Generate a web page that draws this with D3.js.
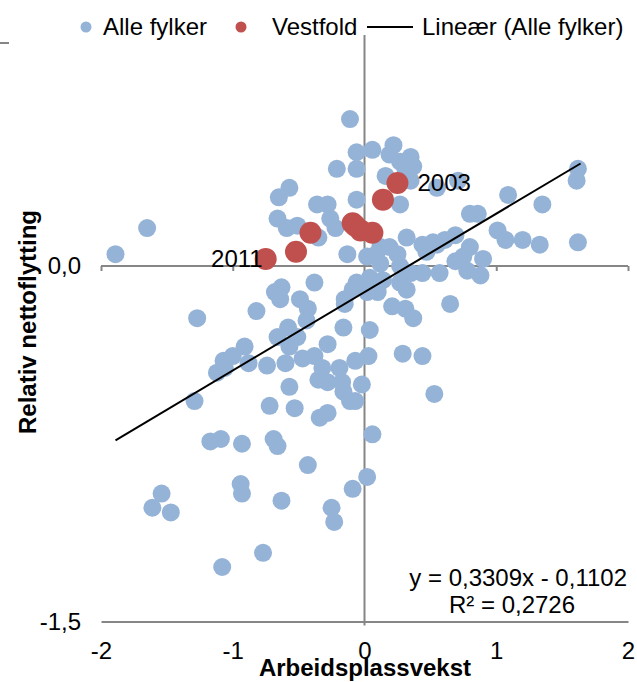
<!DOCTYPE html>
<html>
<head>
<meta charset="utf-8">
<script src="https://cdn.jsdelivr.net/npm/d3@7"></script>
<style>
  body { margin: 0; background: #fff; }
  text { font-family: "Liberation Sans", Arial, sans-serif; }
</style>
</head>
<body>
<svg id="chart" width="637" height="682"></svg>
<script>
// Alle fylker (x = arbeidsplassvekst, y = relativ nettoflytting)
const alleX = [-0.11,-0.06,0.06,0.22,0.19,0.35,0.37,0.27,0.31,-0.21,-0.06,0.16,0.35,0.55,0.71,-0.65,-0.57,-0.36,-0.28,-0.06,0.27,
  -0.66,-0.51,-0.59,-0.26,-0.22,-0.35,-0.13,-1.65,-1.89,1.09,1.35,1.62,1.61,0.80,0.86,1.01,1.07,1.20,1.33,1.62,
  0.32,0.19,0.12,0.02,0.25,0.47,0.55,0.61,0.69,0.80,0.90,0.75,0.44,0.57,0.69,0.27,0.04,-0.06,0.78,0.88,0.09,0.12,
  0.44,0.52,0.35,0.27,0.14,-0.09,-0.38,-0.15,0.32,0.02,0.10,0.21,0.31,0.37,0.65,0.04,0.03,-0.07,0.29,0.44,-0.02,
  -0.07,0.53,0.06,-1.27,-0.82,-0.68,-0.63,-0.64,-0.49,-0.43,-0.44,-0.15,-0.16,-0.66,-0.58,-0.51,-0.57,-0.91,-1.00,
  -1.07,-1.12,-1.06,-0.88,-0.74,-0.60,-0.47,-0.38,-0.28,-0.32,-0.35,-0.28,-0.19,-0.17,-0.16,-0.11,-0.57,-1.29,-0.72,
  -0.53,-0.34,-0.28,-1.17,-1.09,-0.93,-0.69,-0.66,-0.43,0.02,-0.09,-1.54,-1.61,-1.47,-0.94,-0.93,-0.63,-0.25,-0.23,
  -0.77,-1.08]
const alleY = [0.62,0.48,0.49,0.51,0.47,0.46,0.42,0.44,0.41,0.41,0.41,0.38,0.36,0.33,0.36,0.29,0.33,0.26,0.26,0.28,0.26,
  0.20,0.17,0.16,0.20,0.16,0.12,0.05,0.16,0.05,0.30,0.26,0.41,0.36,0.22,0.22,0.15,0.11,0.11,0.09,0.10,
  0.12,0.08,0.08,0.04,0.05,0.06,0.09,0.11,0.13,0.08,0.03,0.04,-0.03,-0.03,0.02,0.00,-0.05,-0.07,-0.02,-0.04,0.05,0.01,
  0.09,0.10,-0.03,-0.07,-0.06,-0.10,-0.07,-0.14,-0.10,-0.11,-0.11,-0.17,-0.18,-0.22,-0.16,-0.27,-0.38,-0.40,-0.37,-0.38,-0.50,
  -0.57,-0.54,-0.71,-0.22,-0.19,-0.11,-0.09,-0.14,-0.14,-0.18,-0.23,-0.16,-0.26,-0.30,-0.26,-0.30,-0.34,-0.34,-0.38,
  -0.40,-0.45,-0.43,-0.41,-0.42,-0.41,-0.39,-0.38,-0.33,-0.43,-0.48,-0.49,-0.43,-0.49,-0.53,-0.57,-0.51,-0.57,-0.59,
  -0.60,-0.64,-0.62,-0.74,-0.73,-0.75,-0.73,-0.76,-0.84,-0.89,-0.94,-0.96,-1.02,-1.04,-0.92,-0.96,-0.99,-1.02,-1.08,
  -1.21,-1.27]

// Vestfold 2003-2011
const vestAar = [2003,2004,2005,2006,2007,2008,2009,2010,2011]
const vestX = [0.25,0.14,0.06,-0.03,-0.07,-0.09,-0.41,-0.52,-0.75]
const vestY = [0.35,0.28,0.14,0.15,0.17,0.18,0.14,0.06,0.03]
const vestEtikett = ["2003","","","","","","","","2011"]

// lineær trend (Alle fylker)
const stigning = 0.3309
const konstant = -0.1102
const r2 = 0.2726

const xTicks = [-2,-1,0,1,2]
const yTicks = [-1.5,0]

const svg = d3.select("#chart")
const grey = "#868686"
const blue = "#95b3d7"
const red = "#c0504d"
const fs = 24

const x = d3.scaleLinear().domain([-2, 2]).range([101, 628])
const y = d3.scaleLinear().domain([-1.5, 1]).range([621.5, 29])
const fmt = v => d3.format(".1f")(v).replace(".", ",").replace("−", "-")

// little stub at top-left
svg.append("line").attr("x1", 0).attr("x2", 9).attr("y1", 43).attr("y2", 43)
  .attr("stroke", grey).attr("stroke-width", 2)

// bottom axis with labels
const xBottom = svg.append("g").attr("transform", `translate(0,${y(-1.5)})`)
  .call(d3.axisBottom(x).tickValues(xTicks).tickSize(0).tickPadding(20).tickFormat(d => String(d).replace("−", "-")))
xBottom.select(".domain").attr("stroke", grey).attr("stroke-width", 2)
xBottom.selectAll("text").attr("font-size", fs).attr("fill", "#000").attr("font-family", "Liberation Sans, Arial")

// horizontal axis through 0
const xZero = svg.append("g").attr("transform", `translate(0,${y(0)})`)
  .call(d3.axisBottom(x).tickValues([-2,-1,1,2]).tickSize(5).tickFormat(""))
xZero.select(".domain").attr("stroke", grey).attr("stroke-width", 2).attr("d", `M${x(-2)},0H${x(2)}`)
xZero.selectAll(".tick line").attr("stroke", grey).attr("stroke-width", 2)

// y labels
const yLeft = svg.append("g").attr("transform", `translate(${x(-2)},0)`)
  .call(d3.axisLeft(y).tickValues(yTicks).tickSize(0).tickPadding(20).tickFormat(fmt))
yLeft.select(".domain").remove()
yLeft.selectAll("text").attr("font-size", fs).attr("fill", "#000").attr("font-family", "Liberation Sans, Arial")

// vertical axis at x = 0
svg.append("line").attr("x1", x(0)).attr("x2", x(0)).attr("y1", 35).attr("y2", y(-1.5) + 4)
  .attr("stroke", grey).attr("stroke-width", 2)

// points
const alle = alleX.map((v, i) => ({ x: v, y: alleY[i] }))
svg.append("g").selectAll("circle").data(alle).join("circle")
  .attr("cx", d => x(d.x)).attr("cy", d => y(d.y)).attr("r", 9).attr("fill", blue)

const vest = vestX.map((v, i) => ({ x: v, y: vestY[i], aar: vestAar[i], lab: vestEtikett[i] }))
svg.append("g").selectAll("circle").data(vest).join("circle")
  .attr("cx", d => x(d.x)).attr("cy", d => y(d.y)).attr("r", 11).attr("fill", red)

// trend line over data range
const xMin = d3.min(alleX), xMax = d3.max(alleX)
svg.append("line")
  .attr("x1", x(xMin)).attr("y1", y(stigning * xMin + konstant))
  .attr("x2", x(xMax + 0.02)).attr("y2", y(stigning * (xMax + 0.02) + konstant))
  .attr("stroke", "#000").attr("stroke-width", 2)

// data labels
svg.append("g").selectAll("text").data(vest.filter(d => d.lab)).join("text")
  .attr("x", d => d.aar === 2011 ? x(d.x) - 3 : x(d.x) + 20)
  .attr("y", d => y(d.y) + 8)
  .attr("text-anchor", d => d.aar === 2011 ? "end" : "start")
  .attr("font-size", fs)
  .text(d => d.lab)

// equation
svg.append("text").attr("x", 627).attr("y", 586).attr("text-anchor", "end").attr("font-size", fs)
  .text(`y = ${String(stigning).replace(".", ",")}x - ${String(-konstant).replace(".", ",")}`)
svg.append("text").attr("x", 512).attr("y", 613).attr("text-anchor", "middle").attr("font-size", fs)
  .text(`R² = ${String(r2).replace(".", ",")}`)

// axis titles
svg.append("text").attr("x", 365).attr("y", 676).attr("text-anchor", "middle")
  .attr("font-size", fs).attr("font-weight", "bold").text("Arbeidsplassvekst")
svg.append("text").attr("transform", "translate(36,322) rotate(-90)").attr("text-anchor", "middle")
  .attr("font-size", fs).attr("font-weight", "bold").text("Relativ nettoflytting")

// legend
const leg = svg.append("g")
leg.append("circle").attr("cx", 86).attr("cy", 27).attr("r", 5.5).attr("fill", blue)
leg.append("text").attr("x", 103).attr("y", 35).attr("font-size", fs).text("Alle fylker")
leg.append("circle").attr("cx", 241).attr("cy", 27).attr("r", 5.5).attr("fill", red)
leg.append("text").attr("x", 272).attr("y", 35).attr("font-size", fs).text("Vestfold")
leg.append("line").attr("x1", 367).attr("x2", 413).attr("y1", 27).attr("y2", 27).attr("stroke", "#000").attr("stroke-width", 2)
leg.append("text").attr("x", 422).attr("y", 35).attr("font-size", fs).text("Lineær (Alle fylker)")
</script>
</body>
</html>
